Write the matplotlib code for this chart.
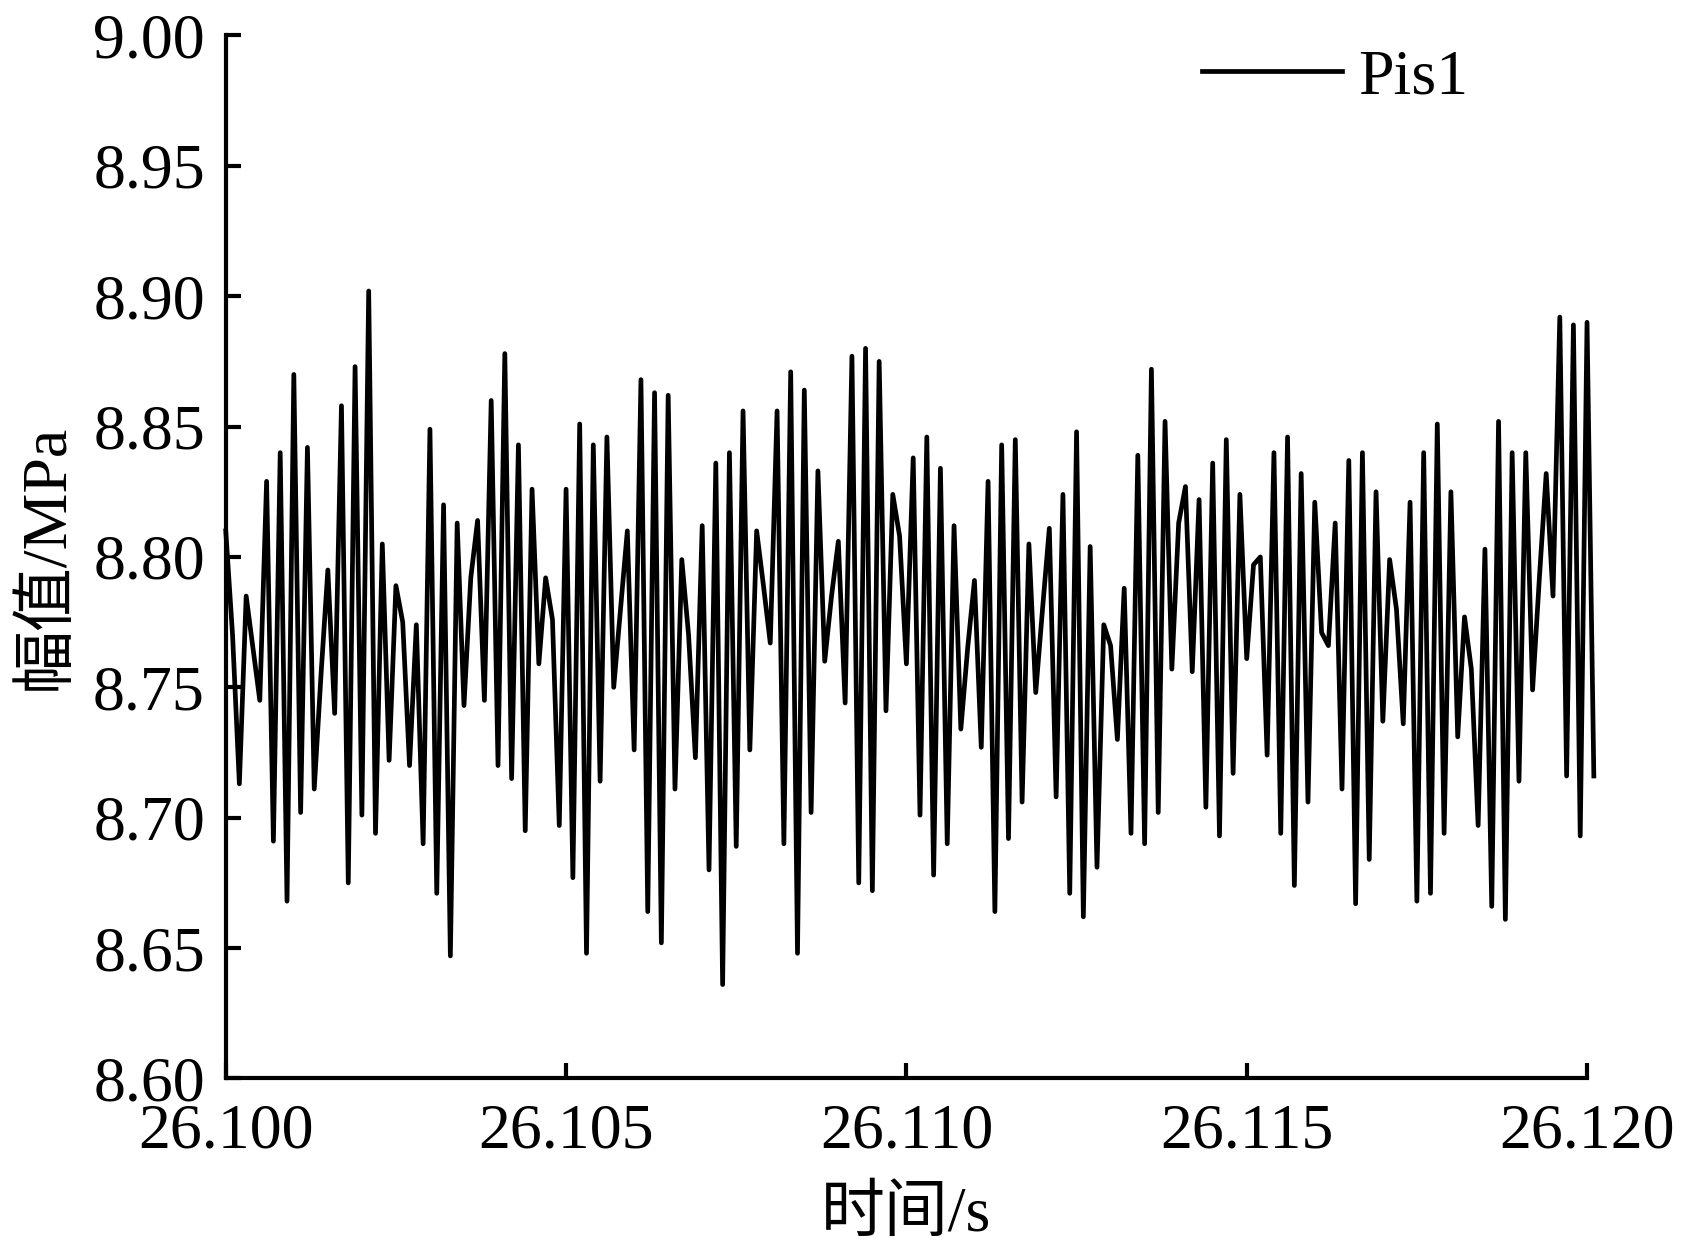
import numpy as np
import matplotlib
matplotlib.use("Agg")
import matplotlib.pyplot as plt
from matplotlib.ticker import FormatStrFormatter, MultipleLocator

# ---- data ----
t_start = 26.100
t_step = 0.0001
pis1 = [
    8.810, 8.770, 8.713, 8.785, 8.765, 8.745, 8.829, 8.691, 8.840, 8.668,
    8.870, 8.702, 8.842, 8.711, 8.755, 8.795, 8.740, 8.858, 8.675, 8.873,
    8.701, 8.902, 8.694, 8.805, 8.722, 8.789, 8.775, 8.720, 8.774, 8.690,
    8.849, 8.671, 8.820, 8.647, 8.813, 8.743, 8.792, 8.814, 8.745, 8.860,
    8.720, 8.878, 8.715, 8.843, 8.695, 8.826, 8.759, 8.792, 8.776, 8.697,
    8.826, 8.677, 8.851, 8.648, 8.843, 8.714, 8.846, 8.750, 8.780, 8.810,
    8.726, 8.868, 8.664, 8.863, 8.652, 8.862, 8.711, 8.799, 8.770, 8.723,
    8.812, 8.680, 8.836, 8.636, 8.840, 8.689, 8.856, 8.726, 8.810, 8.789,
    8.767, 8.856, 8.690, 8.871, 8.648, 8.864, 8.702, 8.833, 8.760, 8.785,
    8.806, 8.744, 8.877, 8.675, 8.880, 8.672, 8.875, 8.741, 8.824, 8.808,
    8.759, 8.838, 8.701, 8.846, 8.678, 8.834, 8.690, 8.812, 8.734, 8.765,
    8.791, 8.727, 8.829, 8.664, 8.843, 8.692, 8.845, 8.706, 8.805, 8.748,
    8.780, 8.811, 8.708, 8.824, 8.671, 8.848, 8.662, 8.804, 8.681, 8.774,
    8.766, 8.730, 8.788, 8.694, 8.839, 8.690, 8.872, 8.702, 8.852, 8.757,
    8.813, 8.827, 8.756, 8.822, 8.704, 8.836, 8.693, 8.845, 8.717, 8.824,
    8.761, 8.797, 8.800, 8.724, 8.840, 8.694, 8.846, 8.674, 8.832, 8.706,
    8.821, 8.771, 8.766, 8.813, 8.711, 8.837, 8.667, 8.840, 8.684, 8.825,
    8.737, 8.799, 8.780, 8.736, 8.821, 8.668, 8.840, 8.671, 8.851, 8.694,
    8.825, 8.731, 8.777, 8.757, 8.697, 8.803, 8.666, 8.852, 8.661, 8.840,
    8.714, 8.840, 8.749, 8.792, 8.832, 8.785, 8.892, 8.716, 8.889, 8.693,
    8.890, 8.716,
]
series_label = "Pis1"
x_label = "时间/s"
y_label = "幅值/MPa"
x_limits = (26.100, 26.120)
y_limits = (8.60, 9.00)

time = t_start + t_step * np.arange(len(pis1))

# ---- style ----
plt.rcParams['font.family'] = ['Liberation Serif', 'Noto Sans CJK SC', 'DejaVu Sans']
FS = 46

fig = plt.figure(figsize=(16.86, 12.53), dpi=100)
ax = fig.add_axes([0.1339, 0.1393, 0.9413 - 0.1339, 0.9717 - 0.1393])

ax.plot(time, pis1, color='black', linewidth=3.4, label=series_label, clip_on=False)

ax.set_xlim(*x_limits)
ax.set_ylim(*y_limits)
ax.xaxis.set_major_locator(MultipleLocator(0.005))
ax.yaxis.set_major_locator(MultipleLocator(0.05))
ax.xaxis.set_major_formatter(FormatStrFormatter('%.3f'))
ax.yaxis.set_major_formatter(FormatStrFormatter('%.2f'))

for s in ['top', 'right']:
    ax.spines[s].set_visible(False)
for s in ['left', 'bottom']:
    ax.spines[s].set_linewidth(3.0)

ax.tick_params(axis='both', direction='in', length=11, width=3.0, labelsize=FS)
ax.tick_params(axis='y', pad=15)
ax.tick_params(axis='x', pad=18)

ax.set_xlabel(x_label, fontsize=FS, labelpad=18)
ax.set_ylabel(y_label, fontsize=FS, labelpad=12)

ax.legend(loc='center left', bbox_to_anchor=(0.717, 0.9588), frameon=False,
          fontsize=FS, handlelength=2.2, handletextpad=0.25,
          borderpad=0, borderaxespad=0)

fig.savefig('out.png', dpi=100)
